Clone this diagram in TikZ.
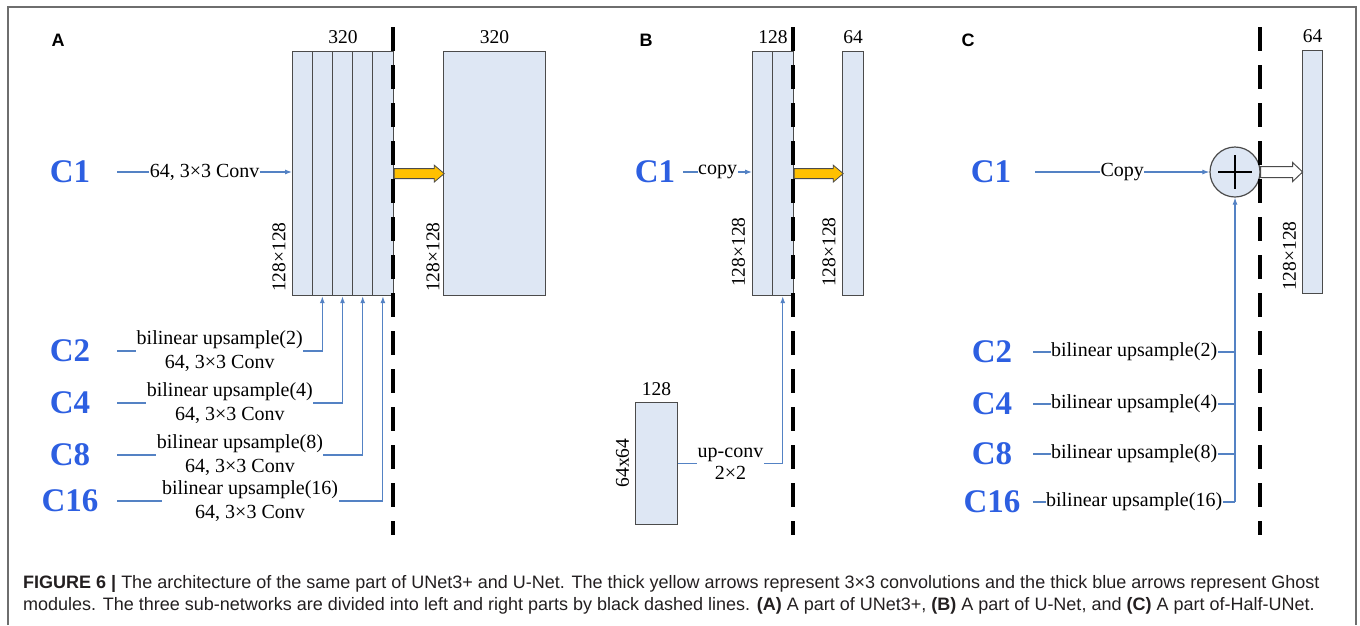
\documentclass[tikz,border=0pt]{standalone}
\usepackage{fontspec}
\setmainfont{Liberation Serif}
\newfontfamily\panelfont{Liberation Sans}
\usetikzlibrary{arrows.meta,calc}

\definecolor{boxfill}{RGB}{222,231,244}
\definecolor{boxline}{RGB}{75,75,75}
\definecolor{linkblue}{RGB}{84,130,196}
\definecolor{cblue}{RGB}{45,95,225}
\definecolor{gold}{RGB}{255,192,0}
\definecolor{framegray}{RGB}{110,110,110}
\definecolor{captext}{RGB}{35,31,32}

\tikzset{
  featbox/.style={draw=boxline, fill=boxfill, line width=1.2pt, inner sep=0pt, anchor=north west},
  colline/.style={draw=boxline, line width=1.2pt},
  num/.style={font=\fontsize{19.5}{23}\selectfont, inner sep=0pt},
  dimlab/.style={num, rotate=90},
  clab/.style={font=\fontsize{33}{36}\selectfont\bfseries, text=cblue, inner sep=0pt},
  lbl/.style={font=\fontsize{20}{24}\selectfont, fill=white, inner sep=0.5pt, align=center},
  wire/.style={draw=linkblue, line width=1.1pt},
  link/.style={wire, -{Latex[length=7pt,width=5pt]}},
  divider/.style={line width=3.2pt, dash pattern=on 24pt off 14pt},
  panel/.style={font=\panelfont\bfseries\fontsize{18}{20}\selectfont, inner sep=0pt},
  fatarrow/.style={fill=gold, draw=boxline, line width=0.8pt},
  hollowarrow/.style={fill=white, draw=boxline, line width=1pt},
  caption/.style={font=\panelfont\fontsize{18}{21}\selectfont, text=captext, inner sep=0pt, anchor=base west}
}

\begin{document}
\begin{tikzpicture}[x=1pt,y=-1pt]
\useasboundingbox (0,0) rectangle (1360,625);

% outer frame, open at the bottom
\draw[framegray, line width=1.3pt] (8,625) -- (8,7) -- (1356,7) -- (1356,625);

% ---------------- panel A: UNet3+ ----------------
\node[panel] (pa) at (58,40) {A};
\node[featbox, minimum width=101pt, minimum height=244pt] (a-cat) at (292,51) {};
\foreach \x in {20.2,40.4,60.6,80.8}
  \draw[colline] ($(a-cat.north west)+(\x,0)$) -- ($(a-cat.south west)+(\x,0)$);
\node[num] at ($(a-cat.north)+(0,-14)$) {320};
\node[dimlab] at (279,257) {128×128};

\node[featbox, minimum width=102pt, minimum height=244pt] (a-out) at (443,51) {};
\node[num] at ($(a-out.north)+(0,-14)$) {320};
\node[dimlab] at (433,257) {128×128};

\draw[fatarrow] (a-cat.east) ++(0,-5) -- ++(40,0) -- ++(0,-3.5) -- ++(10,8.5)
  -- ++(-10,8.5) -- ++(0,-3.5) -- ++(-40,0) -- cycle;

\node[clab, minimum width=94pt] (a-c1) at (70,172) {C1};
\draw[link] (a-c1.east) -- node[lbl]{64, 3×3 Conv} (a-c1.east -| a-cat.west);

\node[clab, minimum width=94pt] (a-c2) at (70,351) {C2};
\node[clab, minimum width=94pt] (a-c4) at (70,403) {C4};
\node[clab, minimum width=94pt] (a-c8) at (70,455) {C8};
\node[clab, minimum width=94pt] (a-c16) at (70,501) {C16};
\coordinate (a-in2) at ($(a-cat.south west)+(30.3,0)$);
\coordinate (a-in4) at ($(a-cat.south west)+(50.5,0)$);
\coordinate (a-in8) at ($(a-cat.south west)+(70.7,0)$);
\coordinate (a-in16) at ($(a-cat.south west)+(90.9,0)$);
\draw[link] (a-c2.east) -- node[lbl]{bilinear upsample(2)\\64, 3×3 Conv} (a-c2.east -| a-in2) -- (a-in2);
\draw[link] (a-c4.east) -- node[lbl]{bilinear upsample(4)\\64, 3×3 Conv} (a-c4.east -| a-in4) -- (a-in4);
\draw[link] (a-c8.east) -- node[lbl]{bilinear upsample(8)\\64, 3×3 Conv} (a-c8.east -| a-in8) -- (a-in8);
\draw[link] (a-c16.east) -- node[lbl]{bilinear upsample(16)\\64, 3×3 Conv} (a-c16.east -| a-in16) -- (a-in16);

\coordinate (a-top) at (393,27);
\coordinate (a-bot) at (393,535);
\draw[divider] (a-top) -- (a-bot);

% ---------------- panel B: U-Net ----------------
\node[panel] (pb) at (646,40) {B};
\node[featbox, minimum width=41pt, minimum height=244pt] (b-cat) at (752,51) {};
\draw[colline] ($(b-cat.north west)+(20.5,0)$) -- ($(b-cat.south west)+(20.5,0)$);
\node[num] at ($(b-cat.north)+(0,-14)$) {128};
\node[dimlab] at (738.5,252) {128×128};

\node[featbox, minimum width=21pt, minimum height=244pt] (b-out) at (842,51) {};
\node[num] at ($(b-out.north)+(0,-14)$) {64};
\node[dimlab] at (829,252) {128×128};

\draw[fatarrow] (b-cat.east) ++(0,-5) -- ++(39,0) -- ++(0,-3.5) -- ++(10,8.5)
  -- ++(-10,8.5) -- ++(0,-3.5) -- ++(-39,0) -- cycle;

\node[clab, minimum width=56pt] (b-c1) at (655,172) {C1};
\draw[link] (b-c1.east) -- node[lbl]{copy} (b-c1.east -| b-cat.west);

\node[featbox, minimum width=42pt, minimum height=122pt] (b-low) at (635,402) {};
\node[num] at ($(b-low.north)+(0,-13)$) {128};
\node[dimlab] at (622.5,463) {64x64};
\coordinate (b-in) at ($(b-cat.south west)+(30.75,0)$);
\draw[link] (b-low.east) -- node[lbl, font=\fontsize{20}{22}\selectfont]{up-conv\\2×2} (b-low.east -| b-in) -- (b-in);

\coordinate (b-top) at (793,27);
\coordinate (b-bot) at (793,535);
\draw[divider] (b-top) -- (b-bot);

% ---------------- panel C: Half-UNet ----------------
\node[panel] (pc) at (968,40) {C};
\node[circle, draw=boxline, fill=boxfill, line width=1.2pt, minimum size=50pt, inner sep=0pt] (c-sum) at (1235,172) {};
\draw[line width=1.3pt] ($(c-sum.center)+(-17,0)$) -- ($(c-sum.center)+(17,0)$);
\draw[line width=1.3pt] ($(c-sum.center)+(0,-17)$) -- ($(c-sum.center)+(0,17)$);

\node[featbox, minimum width=20pt, minimum height=243pt] (c-out) at (1302,50) {};
\node[num] at ($(c-out.north)+(0,-14)$) {64};
\node[dimlab] at (1289.5,256) {128×128};

\draw[hollowarrow] (c-sum.east) ++(0,-5.5) -- ++(32,0) -- ++(0,-4) -- ++(10,9.5)
  -- ++(-10,9.5) -- ++(0,-4) -- ++(-32,0) -- cycle;

\node[clab, minimum width=88pt] (c-c1) at (991,172) {C1};
\draw[link] (c-c1.east) -- node[lbl]{Copy} (c-sum.west);

\node[clab, minimum width=82pt] (c-c2) at (992,352) {C2};
\node[clab, minimum width=82pt] (c-c4) at (992,404) {C4};
\node[clab, minimum width=82pt] (c-c8) at (992,454) {C8};
\node[clab, minimum width=82pt] (c-c16) at (992,502) {C16};
\coordinate (c-join) at (c-sum |- c-c16);
\draw[link] (c-join) -- (c-sum.south);
\draw[wire] (c-c2.east) -- node[lbl]{bilinear upsample(2)} (c-c2 -| c-sum);
\draw[wire] (c-c4.east) -- node[lbl]{bilinear upsample(4)} (c-c4 -| c-sum);
\draw[wire] (c-c8.east) -- node[lbl]{bilinear upsample(8)} (c-c8 -| c-sum);
\draw[wire] (c-c16.east) -- node[lbl]{bilinear upsample(16)} (c-join);

\coordinate (c-top) at (1260,27);
\coordinate (c-bot) at (1260,535);
\draw[divider] (c-top) -- (c-bot);

% ---------------- caption ----------------
\node[caption] (cap1) at (23,588) {\textbf{FIGURE 6 |} The architecture of the same part of UNet3+ and U-Net. The thick yellow arrows represent 3×3 convolutions and the thick blue arrows represent Ghost};
\node[caption] (cap2) at (23,610.5) {modules. The three sub-networks are divided into left and right parts by black dashed lines. \textbf{(A)} A part of UNet3+, \textbf{(B)} A part of U-Net, and \textbf{(C)} A part of-Half-UNet.};
\end{tikzpicture}
\end{document}
